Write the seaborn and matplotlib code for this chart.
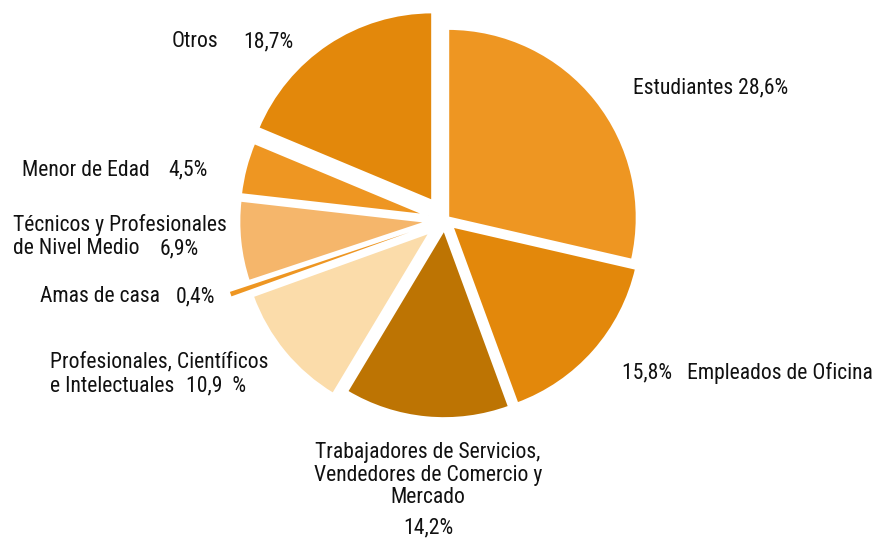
import matplotlib
matplotlib.use("Agg")
import matplotlib.pyplot as plt
import seaborn as sns

categories = ["Estudiantes", "Empleados de Oficina",
              "Trabajadores de Servicios,\nVendedores de Comercio y\nMercado",
              "Profesionales, Científicos\ne Intelectuales", "Amas de casa",
              "Técnicos y Profesionales\nde Nivel Medio", "Menor de Edad", "Otros"]
values = [28.6, 15.8, 14.2, 10.9, 0.4, 6.9, 4.5, 18.7]
colors = ["#EE9622", "#E3880B", "#BD7403", "#FBDCAA", "#EE9622", "#F5B66B", "#EE9622", "#E3880B"]
explode = [0.02, 0.05, 0.05, 0.10, 0.20, 0.09, 0.09, 0.12]

sns.set_theme(style="white")
plt.rcParams["font.family"] = ["Roboto Condensed", "Archivo Narrow", "DejaVu Sans"]

W, H = 878, 540
fig = plt.figure(figsize=(W / 100, H / 100), dpi=100)
ax = fig.add_axes([0, 0, 1, 1])

CX, CY, R = 445, 220, 189
wedges, _ = ax.pie(values, colors=colors, explode=explode, startangle=90,
                   counterclock=False, radius=1, center=(0, 0),
                   wedgeprops=dict(edgecolor="white", linewidth=1.8))
wedges[4].set_linewidth(0)
wedges[4].set_zorder(5)

ax.set_xlim(-CX / R, (W - CX) / R)
ax.set_ylim(-(H - CY) / R, CY / R)
ax.set_aspect("auto")
ax.axis("off")

FS = 15.6


def pct(v):
    return f"{v:.1f}".replace(".", ",")


def txt(x, y, s, ha="left"):
    fig.text(x / W, 1 - y / H, s, ha=ha, va="center", fontsize=FS, color="#111111",
             linespacing=1.12)


txt(218, 42, categories[7], ha="right")
txt(243, 42, pct(values[7]) + "%")
txt(633, 88, f"{categories[0]} {pct(values[0])}%")
txt(873, 373, f"{pct(values[1])}%   {categories[1]}", ha="right")
txt(428, 475, categories[2], ha="center")
txt(428, 528, pct(values[2]) + "%", ha="center")
prof1, prof2 = categories[3].split("\n")
txt(50, 362, prof1)
txt(50, 386, prof2)
txt(186, 386, pct(values[3]) + "  %")
txt(160, 297, categories[4], ha="right")
txt(176, 297, pct(values[4]) + "%")
tec1, tec2 = categories[5].split("\n")
txt(13, 225, tec1)
txt(13, 249, tec2)
txt(160, 249, pct(values[5]) + "%")
txt(150, 170, categories[6], ha="right")
txt(168, 170, pct(values[6]) + "%")

fig.savefig("out.png", dpi=100)
